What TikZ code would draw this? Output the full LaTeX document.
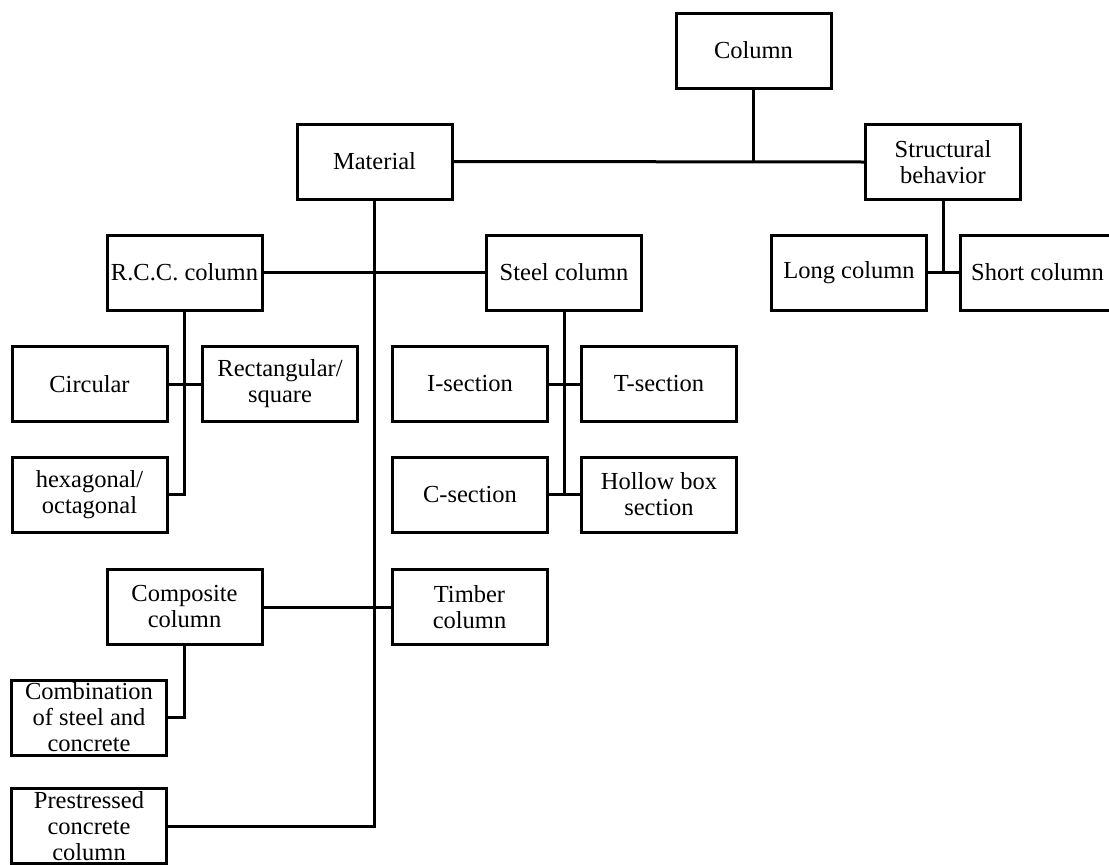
\documentclass[tikz,border=0pt]{standalone}
\usepackage{fontspec}
\setmainfont{Liberation Serif}
\usepackage{tikz}
\usetikzlibrary{calc}

\tikzset{
  box/.style={draw, line width=3pt, minimum width=155pt, minimum height=75pt,
    inner sep=0pt, align=center, font=\fontsize{24.5}{26}\selectfont},
  link/.style={line width=3pt}
}

\begin{document}
\begin{tikzpicture}[x=1pt, y=-1pt]
\useasboundingbox (0,0) rectangle (1109,865);
% top level
\node[box] (column) at (753.5,50.5) {Column};
\node[box] (material) at (374.5,161.5) {Material};
\node[box] (structural) at (943,162) {Structural\\behavior};
% structural behavior
\node[box] (long) at (849,272.5) {Long column};
\node[box] (short) at (1037.5,272.5) {Short column};
% material
\node[box] (rcc) at (184.5,272.5) {R.C.C. column};
\node[box] (steel) at (564,272.5) {Steel column};
\node[box] (composite) at (184.5,607) {Composite\\column};
\node[box] (timber) at (469.5,607) {Timber\\column};
\node[box] (prestressed) at (89,826) {Prestressed\\concrete\\column};
% r.c.c. shapes
\node[box] (circular) at (89.5,384) {Circular};
\node[box] (rect) at (280,384) {Rectangular/\\square};
\node[box] (hex) at (89.5,494.5) {hexagonal/\\octagonal};
% steel sections
\node[box] (isec) at (470,384) {I-section};
\node[box] (tsec) at (659,384) {T-section};
\node[box] (csec) at (470,494.5) {C-section};
\node[box] (hollow) at (659,494.5) {Hollow box\\section};
% composite
\node[box] (combination) at (89,717.5) {Combination\\of steel and\\concrete};

\draw[link] (column.south) -- (column.south |- material.east);
\draw[link] (material.east) -- (structural.west);
\draw[link] (structural.south) -- (structural.south |- long.east);
\draw[link] (long.east) -- (short.west);
\draw[link] (material.south) |- (prestressed.east);
\draw[link] (rcc.east) -- (steel.west);
\draw[link] (composite.east) -- (timber.west);
\draw[link] (rcc.south) |- (hex.east);
\draw[link] (circular.east) -- (rect.west);
\draw[link] (steel.south) -- (steel.south |- csec.east);
\draw[link] (isec.east) -- (tsec.west);
\draw[link] (csec.east) -- (hollow.west);
\draw[link] (composite.south) |- (combination.east);
\end{tikzpicture}
\end{document}
